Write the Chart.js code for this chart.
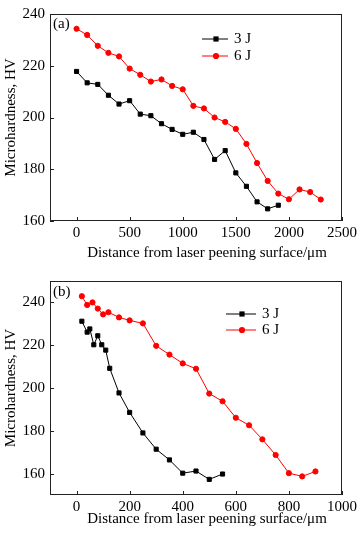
<!DOCTYPE html>
<html>
<head>
<meta charset="utf-8">
<script src="https://cdn.jsdelivr.net/npm/chart.js@4"></script>
<style>
body { margin: 0; background: #fff; }
canvas { display: block; }
</style>
</head>
<body>
<canvas id="chartA" width="360" height="267"></canvas>
<canvas id="chartB" width="360" height="270"></canvas>
<script>
// panel (a)
const distA3 = [0, 100, 200, 300, 400, 500, 600, 700, 800, 900, 1000, 1100, 1200, 1300, 1400, 1500, 1600, 1700, 1800, 1900];
const hvA3 = [217.8, 213.4, 212.8, 208.6, 205.2, 206.5, 201.3, 200.7, 197.6, 195.4, 193.5, 194.3, 191.5, 183.8, 187.2, 178.6, 173.4, 167.4, 164.7, 166.1];
const distA6 = [0, 100, 200, 300, 400, 500, 600, 700, 800, 900, 1000, 1100, 1200, 1300, 1400, 1500, 1600, 1700, 1800, 1900, 2000, 2100, 2200, 2300];
const hvA6 = [234.3, 231.9, 227.7, 225.0, 223.6, 218.9, 216.5, 213.9, 214.7, 212.2, 210.9, 204.5, 203.5, 200.0, 198.3, 195.6, 189.8, 182.4, 175.5, 170.6, 168.4, 172.2, 171.2, 168.3];
const xTicksA = [0, 500, 1000, 1500, 2000, 2500];
const yTicksA = [160, 180, 200, 220, 240];

// panel (b)
const distB3 = [20, 40, 50, 65, 80, 95, 110, 125, 160, 200, 250, 300, 350, 400, 450, 500, 550];
const hvB3 = [231.2, 226.1, 227.6, 220.2, 224.4, 220.2, 217.7, 209.2, 197.7, 188.6, 179.0, 171.4, 166.4, 160.2, 161.2, 157.3, 159.8];
const distB6 = [20, 40, 60, 80, 100, 120, 160, 200, 250, 300, 350, 400, 450, 500, 550, 600, 650, 700, 750, 800, 850, 900];
const hvB6 = [242.9, 238.8, 240.0, 237.1, 234.4, 235.4, 233.0, 231.6, 230.2, 219.7, 215.6, 211.5, 209.0, 197.4, 193.8, 186.1, 182.6, 176.0, 168.7, 160.2, 158.7, 161.0];
const xTicksB = [0, 200, 400, 600, 800, 1000];
const yTicksB = [160, 180, 200, 220, 240];

const seriesNames = ["3 J", "6 J"];
const xTitle = "Distance from laser peening surface/\u03bcm";
const serif = "'Liberation Serif', 'DejaVu Serif', serif";

// frame, inside ticks, panel letter, x title and legend
const decorPlugin = {
    id: "decor",
    afterDraw(chart, args, opts) {
        const ctx = chart.ctx;
        const a = chart.chartArea;
        ctx.save();
        ctx.strokeStyle = "#222";
        ctx.lineWidth = 1;
        ctx.strokeRect(a.left + 0.5, a.top + 0.5, a.right - a.left - 1, a.bottom - a.top - 1);

        const xs = chart.scales.x;
        const ys = chart.scales.y;
        ctx.beginPath();
        xs.ticks.forEach(t => {
            const px = Math.round(xs.getPixelForValue(t.value)) + 0.5;
            ctx.moveTo(px, a.bottom);
            ctx.lineTo(px, a.bottom - 4);
        });
        ys.ticks.forEach(t => {
            const py = Math.round(ys.getPixelForValue(t.value)) + 0.5;
            ctx.moveTo(a.left, py);
            ctx.lineTo(a.left + 4, py);
        });
        ctx.stroke();

        ctx.fillStyle = "#000";
        ctx.font = "15px " + serif;
        ctx.textBaseline = "middle";
        ctx.fillText(opts.letter, a.left + 3, a.top + opts.letterDy);

        ctx.textAlign = "center";
        ctx.fillText(xTitle, opts.titleX, opts.titleY);
        ctx.textAlign = "left";

        chart.data.datasets.forEach((ds, i) => {
            const y = a.top + opts.legendY[i];
            ctx.strokeStyle = ds.borderColor;
            ctx.fillStyle = ds.borderColor;
            ctx.beginPath();
            ctx.moveTo(opts.legendX0, y);
            ctx.lineTo(opts.legendX1, y);
            ctx.stroke();
            const mx = (opts.legendX0 + opts.legendX1) / 2 + 1;
            if (ds.pointStyle === "rect") {
                ctx.fillRect(mx - 2.6, y - 2.6, 5.2, 5.2);
            } else {
                ctx.beginPath();
                ctx.arc(mx, y, 3.1, 0, Math.PI * 2);
                ctx.fill();
            }
            ctx.fillStyle = "#000";
            ctx.fillText(ds.label, opts.legendX1 + 6, y);
        });
        ctx.restore();
    }
};

function makeChart(id, d3, v3, d6, v6, xMin, xMax, xTicks, yMin, yMax, yTicks, box, decor) {
    const canvas = document.getElementById(id);
    const H = canvas.height;
    return new Chart(canvas, {
        type: "line",
        data: {
            datasets: [{
                label: seriesNames[0],
                data: d3.map((x, i) => ({ x: x, y: v3[i] })),
                borderColor: "#000000",
                backgroundColor: "#000000",
                borderWidth: 1,
                pointStyle: "rect",
                pointRadius: 2.9,
                pointBorderWidth: 1,
                tension: 0
            }, {
                label: seriesNames[1],
                data: d6.map((x, i) => ({ x: x, y: v6[i] })),
                borderColor: "#ff0000",
                backgroundColor: "#ff0000",
                borderWidth: 1,
                pointStyle: "circle",
                pointRadius: 2.6,
                pointBorderWidth: 1,
                tension: 0
            }]
        },
        options: {
            responsive: false,
            animation: false,
            devicePixelRatio: 1,
            layout: { padding: { top: box.top, right: 360 - box.right, left: 0, bottom: 0 } },
            plugins: {
                legend: { display: false },
                tooltip: { enabled: false },
                decor: decor
            },
            scales: {
                x: {
                    type: "linear",
                    min: xMin,
                    max: xMax,
                    grid: { display: false, drawTicks: false },
                    border: { display: false },
                    afterBuildTicks: s => { s.ticks = xTicks.map(v => ({ value: v })); },
                    afterFit: s => { s.height = H - box.bottom; },
                    ticks: {
                        color: "#000",
                        font: { family: serif, size: 15 },
                        padding: 3,
                        maxRotation: 0,
                        callback: v => String(v)
                    }
                },
                y: {
                    min: yMin,
                    max: yMax,
                    grid: { display: false, drawTicks: false },
                    border: { display: false },
                    afterBuildTicks: s => { s.ticks = yTicks.map(v => ({ value: v })); },
                    afterFit: s => { s.width = box.left; },
                    ticks: {
                        color: "#000",
                        font: { family: serif, size: 15 },
                        padding: 5,
                        callback: v => String(v)
                    },
                    title: {
                        display: true,
                        text: "Microhardness, HV",
                        color: "#000",
                        font: { family: serif, size: 15 },
                        padding: { top: 2, bottom: 0 }
                    }
                }
            }
        },
        plugins: [decorPlugin]
    });
}

makeChart("chartA", distA3, hvA3, distA6, hvA6, -250, 2500, xTicksA, 160, 240, yTicksA,
    { left: 50, right: 347, top: 4, bottom: 221 },
    { letter: "(a)", letterDy: 10, legendX0: 202, legendX1: 228, legendY: [25, 42], titleX: 207, titleY: 253 });

makeChart("chartB", distB3, hvB3, distB6, hvB6, -100, 1000, xTicksB, 150, 250, yTicksB,
    { left: 50, right: 346, top: 10, bottom: 228 },
    { letter: "(b)", letterDy: 11, legendX0: 226, legendX1: 256, legendY: [33, 49], titleX: 207, titleY: 252 });
</script>
</body>
</html>
